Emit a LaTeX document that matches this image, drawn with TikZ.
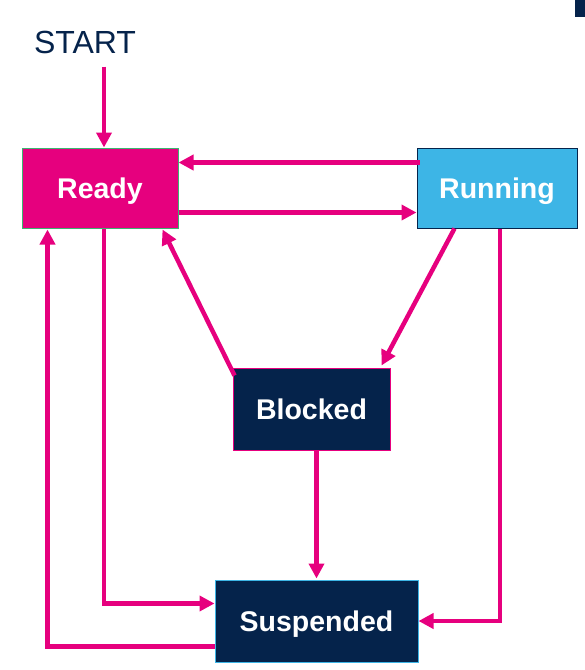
\documentclass[tikz,border=0pt]{standalone}
\usepackage{fontspec}
\setmainfont{Liberation Sans}
\usetikzlibrary{arrows.meta,calc}
\definecolor{mag}{HTML}{E6007E}
\definecolor{navy}{HTML}{05234B}
\definecolor{sky}{HTML}{3DB5E6}
\definecolor{grn}{HTML}{3CB371}
\tikzset{
  state/.style={draw, line width=1pt, minimum height=80pt, inner sep=0pt,
    text height=26pt, text depth=6pt,
    text=white, font=\fontsize{28.5}{30}\selectfont\bfseries},
  arr/.style={draw=mag, line width=4.5pt, -{Triangle[length=15pt,width=15pt]}},
}
\begin{document}
\begin{tikzpicture}[x=1pt,y=-1pt]
\useasboundingbox (0,0) rectangle (585,670);
\fill[navy] (575,0) rectangle (585,17);
\node[text=navy, font=\fontsize{32}{34}\selectfont, inner sep=0pt] (START) at (85,42) {START};
\node[state, fill=mag, draw=grn, minimum width=156pt] (Ready) at (100,188) {Ready};
\node[state, fill=sky, draw=navy, minimum width=160pt] (Running) at (497,188) {Running};
\node[state, fill=navy, draw=mag, minimum width=157pt, minimum height=82pt] (Blocked) at (311.5,409) {Blocked};
\node[state, fill=navy, draw=sky, minimum width=203pt, minimum height=82pt] (Suspended) at (316.5,621) {Suspended};
\coordinate (s1) at ([xshift=4pt]Ready.north);
\coordinate (s2) at ([xshift=26pt]Ready.south west);
\coordinate (r1) at ([xshift=3pt]Running.south);
\coordinate (c1) at ([yshift=-24pt]Suspended.north west);
\coordinate (c2) at ([yshift=16pt]Suspended.south west);
% START -> Ready
\draw[arr] ([yshift=-13pt]s1 |- START.south) -- (s1);
% Running -> Ready
\draw[arr] ([xshift=3pt,yshift=-15pt]Running.north west) -- ([yshift=-15pt]Ready.north east);
% Ready -> Running
\draw[arr] ([yshift=16pt]Ready.south east) -- ([yshift=16pt]Running.south west);
% Running -> Blocked
\draw[arr] ([xshift=38pt]Running.south west) -- ([xshift=-9pt,yshift=2pt]Blocked.north east);
% Blocked -> Ready
\draw[arr] ([xshift=2pt,yshift=-8pt]Blocked.north west) -- ([xshift=-16pt,yshift=-1pt]Ready.south east);
% Blocked -> Suspended
\draw[arr] (Suspended.north |- Blocked.south) -- ([yshift=1pt]Suspended.north);
% Ready -> Suspended
\draw[arr] (s1 |- Ready.south) -- (s1 |- c1) -- (c1);
% Suspended -> Ready
\draw[arr] (c2) -- (s2 |- c2) -- ([yshift=-1pt]s2);
% Running -> Suspended
\draw[arr] (r1) -- (r1 |- Suspended.east) -- (Suspended.east);
\end{tikzpicture}
\end{document}
